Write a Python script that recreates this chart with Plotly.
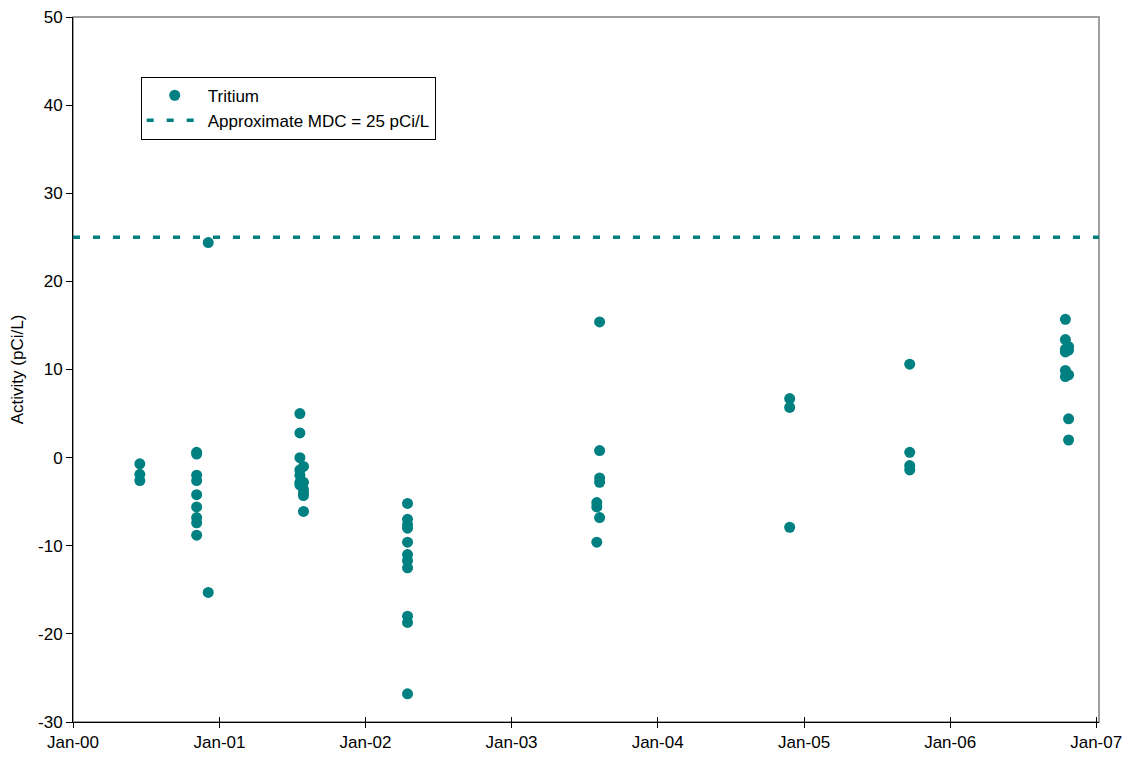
import plotly.graph_objects as go

# Tritium sample dates and activities (pCi/L)
dates = (
    ["2000-06-16"] * 3
    + ["2000-11-05"] * 9
    + ["2000-12-04"] * 2
    + ["2001-07-21"] * 7
    + ["2001-07-30"] * 6
    + ["2002-04-16"] * 11
    + ["2003-08-09"] * 5
    + ["2003-08-02"] * 3
    + ["2004-11-26"] * 3
    + ["2005-09-22"] * 4
    + ["2006-10-16"] * 6
    + ["2006-10-24"] * 5
)
activity = (
    [-0.7, -1.9, -2.6]
    + [0.6, 0.4, -2.0, -2.6, -4.2, -5.6, -6.8, -7.4, -8.8]
    + [24.4, -15.3]
    + [5.0, 2.8, 0.0, -1.4, -2.0, -2.8, -3.1]
    + [-1.0, -2.8, -3.6, -4.0, -4.3, -6.1]
    + [-5.2, -7.0, -7.6, -8.0, -9.6, -11.0, -11.7, -12.5, -18.0, -18.7, -26.8]
    + [15.4, 0.8, -2.3, -2.8, -6.8]
    + [-5.1, -5.6, -9.6]
    + [6.7, 5.7, -7.9]
    + [10.6, 0.6, -0.9, -1.4]
    + [15.7, 13.4, 12.3, 9.9, 9.2, 12.0]
    + [12.6, 12.2, 9.4, 4.4, 2.0]
)

mdc_value = 25
x_start, x_end = "2000-01-01", "2007-01-08"
y_ticks = [-30, -20, -10, 0, 10, 20, 30, 40, 50]
y_tick_labels = ["-30", "-20", "-10", "0", "10", "20", "30", "40", "50"]
tick_dates = ["2000-01-01", "2001-01-01", "2002-01-01", "2003-01-01",
              "2004-01-01", "2005-01-01", "2006-01-01", "2007-01-01"]
tick_labels = ["Jan-00", "Jan-01", "Jan-02", "Jan-03", "Jan-04", "Jan-05", "Jan-06", "Jan-07"]

teal = "#008080"
font = dict(family="Liberation Sans, Arial, sans-serif", size=17, color="black")

fig = go.Figure()
fig.add_trace(go.Scatter(
    x=dates, y=activity, mode="markers", name="Tritium",
    marker=dict(color=teal, size=11, line=dict(width=0)),
    legendgroup="a",
))
fig.add_trace(go.Scatter(
    x=[x_start, x_end], y=[mdc_value, mdc_value], mode="lines",
    name="Approximate MDC = 25 pCi/L",
    line=dict(color=teal, width=3.5, dash="7px,13px"),
    legendgroup="b",
))
# invisible trace carrying the inward half of the crossing x ticks
fig.add_trace(go.Scatter(x=[x_start], y=[y_ticks[0]], xaxis="x2", mode="markers",
                         marker=dict(opacity=0), showlegend=False, hoverinfo="skip"))

fig.update_layout(
    width=1126, height=759,
    margin=dict(l=73, r=27, t=17, b=37, autoexpand=False),
    paper_bgcolor="white", plot_bgcolor="white",
    font=font,
    showlegend=True,
    legend=dict(
        x=0.066, y=0.9153, xanchor="left", yanchor="top",
        bgcolor="white", bordercolor="black", borderwidth=1,
        font=font,
        tracegroupgap=0, traceorder="grouped",
        itemwidth=56,
    ),
    xaxis=dict(
        type="date", range=[x_start, x_end], automargin=False,
        tickvals=tick_dates, ticktext=tick_labels,
        ticks="outside", ticklen=5, tickcolor="black", tickwidth=1,
        showline=True, linecolor="black", linewidth=1,
        showgrid=False, zeroline=False, mirror=False,
        tickfont=font,
    ),
    xaxis2=dict(
        type="date", range=[x_start, x_end], overlaying="x", matches="x",
        tickvals=tick_dates, ticktext=[""] * len(tick_dates), automargin=False,
        ticks="inside", ticklen=5, tickcolor="black", tickwidth=1,
        showline=False, showgrid=False, zeroline=False, side="bottom",
    ),
    yaxis=dict(
        range=[y_ticks[0], y_ticks[-1]], tickvals=y_ticks, ticktext=y_tick_labels,
        automargin=False,
        ticks="outside", ticklen=6, tickcolor="black", tickwidth=1,
        showline=True, linecolor="black", linewidth=1,
        showgrid=False, zeroline=False,
        tickfont=font,
        title=dict(text="Activity (pCi/L)", font=font, standoff=10),
    ),
)
# gray top and right borders of the plot area
fig.add_shape(type="rect", xref="paper", yref="paper", x0=0, y0=0, x1=1, y1=1,
              line=dict(color="#808080", width=1.5), layer="below")

fig.write_html("out.html")
